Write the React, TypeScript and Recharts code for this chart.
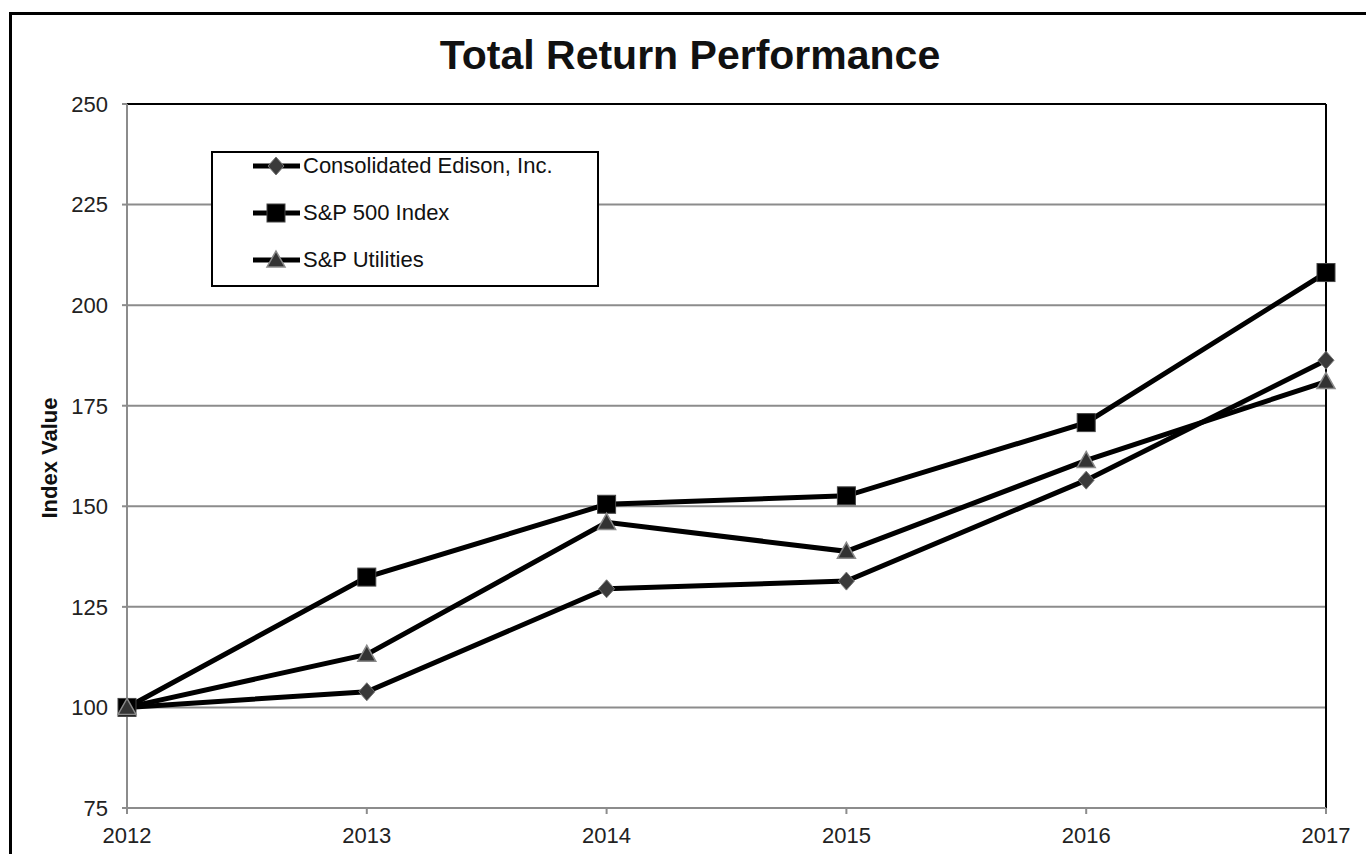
import React from 'react';
import { LineChart, Line, XAxis, YAxis, CartesianGrid, Legend, ReferenceLine } from 'recharts';

const years = ['2012', '2013', '2014', '2015', '2016', '2017'];
const conEd = [100, 103.9, 129.5, 131.4, 156.5, 186.3];
const sp500 = [100, 132.4, 150.5, 152.6, 170.8, 208.1];
const spUtilities = [100, 113.2, 146.0, 138.8, 161.4, 181.0];
const yTicks = [75, 100, 125, 150, 175, 200, 225, 250];

const data = years.map((year, i) => ({
  year,
  conEd: conEd[i],
  sp500: sp500[i],
  spUtilities: spUtilities[i],
}));

const FONT = '"Liberation Sans", Arial, sans-serif';

function Diamond({ cx, cy }: any) {
  return <polygon points={`${cx},${cy - 9} ${cx + 8},${cy} ${cx},${cy + 9} ${cx - 8},${cy}`} fill="#3a3a3a" stroke="#777" strokeWidth={1} />;
}

function Square({ cx, cy }: any) {
  return <rect x={cx - 9} y={cy - 9} width={18} height={18} fill="#000" stroke="#444" strokeWidth={1} />;
}

function Triangle({ cx, cy }: any) {
  return <polygon points={`${cx},${cy - 9} ${cx + 9},${cy + 7} ${cx - 9},${cy + 7}`} fill="#333" stroke="#8a8a8a" strokeWidth={1.5} />;
}

const legendItems = [
  { label: 'Consolidated Edison, Inc.', Marker: Diamond },
  { label: 'S&P 500 Index', Marker: Square },
  { label: 'S&P Utilities', Marker: Triangle },
];

function LegendBox() {
  return (
    <div style={{ position: 'relative', border: '2px solid #000', width: 388, height: 136, boxSizing: 'border-box', background: '#fff' }}>
      {legendItems.map(({ label, Marker }, i) => (
        <div key={label} style={{ position: 'absolute', left: 38, top: 1 + i * 47, height: 24, display: 'flex', alignItems: 'center', whiteSpace: 'nowrap' }}>
          <svg width={50} height={24} style={{ display: 'block' }}>
            <line x1={2} y1={12} x2={49} y2={12} stroke="#000" strokeWidth={5} />
            <Marker cx={25} cy={12} />
          </svg>
          <span style={{ fontFamily: FONT, fontSize: 22, lineHeight: '24px', color: '#111', marginLeft: 2 }}>{label}</span>
        </div>
      ))}
    </div>
  );
}

export default function App() {
  return (
    <div style={{ position: 'absolute', left: 0, top: 0, width: 1366, height: 854, overflow: 'hidden', background: '#fff' }}>
      <div style={{ position: 'absolute', left: 9, top: 12, width: 1400, height: 900, border: '3px solid #000' }} />
      <div style={{ position: 'absolute', left: 0, top: 34, width: 1380, textAlign: 'center', fontFamily: FONT, fontWeight: 'bold', fontSize: 41, lineHeight: '42px', color: '#111' }}>
        Total Return Performance
      </div>
      <div style={{ position: 'absolute', left: 50, top: 458, transform: 'translate(-50%, -50%) rotate(-90deg)', fontFamily: FONT, fontWeight: 'bold', fontSize: 22, whiteSpace: 'nowrap', color: '#111' }}>
        Index Value
      </div>
      <div style={{ position: 'absolute', left: 0, top: 0 }}>
        <LineChart width={1366} height={854} data={data} margin={{ top: 104, right: 40, bottom: 16, left: 67 }}>
          <CartesianGrid vertical={false} stroke="#8c8c8c" strokeWidth={2} />
          <XAxis
            dataKey="year"
            height={30}
            axisLine={{ stroke: '#8c8c8c', strokeWidth: 2 }}
            tickLine={{ stroke: '#8c8c8c', strokeWidth: 2 }}
            tickSize={6}
            tickMargin={13}
            tick={{ fontFamily: FONT, fontSize: 22, fill: '#222' }}
          />
          <YAxis
            width={60}
            domain={[75, 250]}
            ticks={yTicks}
            interval={0}
            axisLine={{ stroke: '#8c8c8c', strokeWidth: 2 }}
            tickLine={{ stroke: '#8c8c8c', strokeWidth: 2 }}
            tickSize={5}
            tickMargin={14}
            tick={{ fontFamily: FONT, fontSize: 22, fill: '#222' }}
          />
          <ReferenceLine y={250} stroke="#000" strokeWidth={2} />
          <ReferenceLine x="2017" stroke="#000" strokeWidth={2} />
          <Legend
            layout="vertical"
            align="center"
            verticalAlign="middle"
            content={() => <LegendBox />}
            wrapperStyle={{ position: 'absolute', left: 211, top: 151, width: 388, height: 136 }}
          />
          <Line dataKey="conEd" name="Consolidated Edison, Inc." stroke="#000" strokeWidth={5} dot={(p: any) => <Diamond key={p.index} {...p} />} isAnimationActive={false} />
          <Line dataKey="sp500" name="S&P 500 Index" stroke="#000" strokeWidth={5} dot={(p: any) => <Square key={p.index} {...p} />} isAnimationActive={false} />
          <Line dataKey="spUtilities" name="S&P Utilities" stroke="#000" strokeWidth={5} dot={(p: any) => <Triangle key={p.index} {...p} />} isAnimationActive={false} />
        </LineChart>
      </div>
    </div>
  );
}
